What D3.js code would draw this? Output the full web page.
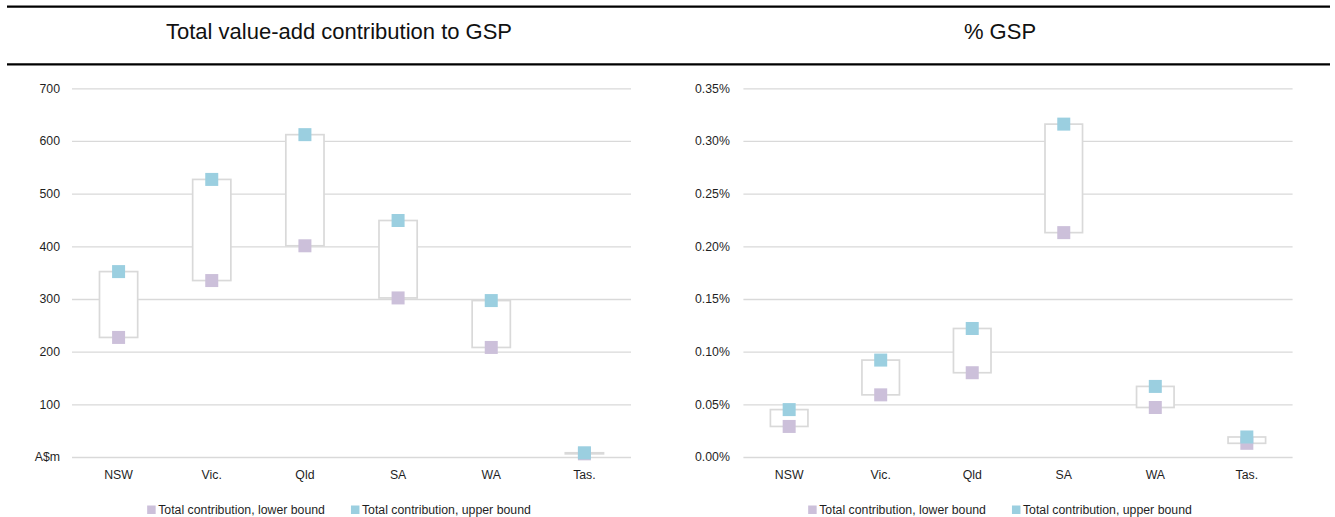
<!DOCTYPE html>
<html><head><meta charset="utf-8">
<script src="https://cdn.jsdelivr.net/npm/d3@7"></script>
<style>
html,body{margin:0;padding:0;background:#fff;}
svg{display:block;font-family:"Liberation Sans",Arial,sans-serif;}
</style></head><body>
<svg id="c" width="1335" height="517"></svg>
<script>
const categories = ["NSW","Vic.","Qld","SA","WA","Tas."];
const valueLower = [227, 335, 401, 302, 208, 6];
const valueUpper = [352, 527, 612, 449, 297, 8];
const pctLower = [0.029, 0.059, 0.080, 0.213, 0.047, 0.013];
const pctUpper = [0.045, 0.092, 0.122, 0.316, 0.067, 0.019];
const valueTicks = [0,100,200,300,400,500,600,700];
const valueTickLabels = ["A$m","100","200","300","400","500","600","700"];
const pctTicks = [0,0.05,0.10,0.15,0.20,0.25,0.30,0.35];
const pctTickLabels = ["0.00%","0.05%","0.10%","0.15%","0.20%","0.25%","0.30%","0.35%"];
const legendLabels = ["Total contribution, lower bound","Total contribution, upper bound"];
const titles = ["Total value-add contribution to GSP","% GSP"];

const lowerColor = "#CCC0DA", upperColor = "#9BCFE0", gridColor = "#d9d9d9", textColor = "#1f1f1f";
const svg = d3.select("#c");

// header rules
svg.selectAll("line.rule").data([6.7, 64.3]).enter().append("line")
  .attr("x1", 7).attr("x2", 1330).attr("y1", d => d).attr("y2", d => d)
  .attr("stroke", "#000").attr("stroke-width", 2.2);

const panels = [
  {title: titles[0], center: 339, lower: valueLower, upper: valueUpper, ticks: valueTicks, labels: valueTickLabels,
   domain: [0, 700], x0: 72, x1: 631, pad: 12},
  {title: titles[1], center: 1000, lower: pctLower, upper: pctUpper, ticks: pctTicks, labels: pctTickLabels,
   domain: [0, 0.35], x0: 743.4, x1: 1292.6, pad: 13.5}
];

const yBottom = 457, yTop = 88.3;

panels.forEach(p => {
  const g = svg.append("g");
  g.append("text").attr("x", p.center).attr("y", 39.3).attr("text-anchor", "middle")
    .attr("font-size", 22).attr("fill", "#111").text(p.title);

  const y = d3.scaleLinear().domain(p.domain).range([yBottom, yTop]);
  const x = d3.scaleBand().domain(categories).range([p.x0, p.x1]);

  const yAxis = d3.axisLeft(y).tickValues(p.ticks)
    .tickFormat((d, i) => p.labels[i])
    .tickSize(-(p.x1 - p.x0)).tickPadding(p.pad);
  const ya = g.append("g").attr("transform", `translate(${p.x0},0)`).call(yAxis);
  ya.select(".domain").remove();
  ya.selectAll(".tick line").attr("stroke", gridColor).attr("stroke-width", 1.3);
  ya.selectAll(".tick text").attr("font-size", 12.3).attr("fill", textColor)
    .attr("font-family", '"Liberation Sans",Arial,sans-serif');

  const xAxis = d3.axisBottom(x).tickSize(0).tickPadding(12.8);
  const xa = g.append("g").attr("transform", `translate(0,${yBottom})`).call(xAxis);
  xa.select(".domain").remove();
  xa.selectAll(".tick text").attr("font-size", 12.3).attr("fill", textColor)
    .attr("font-family", '"Liberation Sans",Arial,sans-serif');

  const data = categories.map((c, i) => ({c, lo: p.lower[i], hi: p.upper[i]}));
  const bw = x.bandwidth() * 0.41;

  g.selectAll("rect.box").data(data).enter().append("rect")
    .attr("x", d => x(d.c) + x.bandwidth() / 2 - bw / 2)
    .attr("width", bw)
    .attr("y", d => y(d.hi))
    .attr("height", d => Math.max(0.5, y(d.lo) - y(d.hi)))
    .attr("fill", "#fff").attr("stroke", gridColor).attr("stroke-width", 1.7);

  const ms = 13;
  g.selectAll("rect.lo").data(data).enter().append("rect")
    .attr("x", d => x(d.c) + x.bandwidth() / 2 - ms / 2)
    .attr("y", d => y(d.lo) - ms / 2)
    .attr("width", ms).attr("height", ms).attr("fill", lowerColor);
  g.selectAll("rect.hi").data(data).enter().append("rect")
    .attr("x", d => x(d.c) + x.bandwidth() / 2 - ms / 2)
    .attr("y", d => y(d.hi) - ms / 2)
    .attr("width", ms).attr("height", ms).attr("fill", upperColor);

  // legend
  const lg = g.append("g");
  const colors = [lowerColor, upperColor];
  let cx = 0;
  const items = legendLabels.map((t, i) => {
    const it = lg.append("g");
    it.append("rect").attr("x", 0).attr("y", 505.5).attr("width", 8.5).attr("height", 8.5).attr("fill", colors[i]);
    const tx = it.append("text").attr("x", 11).attr("y", 514).attr("font-size", 12.3).attr("fill", textColor).text(t);
    const w = 11 + tx.node().getComputedTextLength();
    it.attr("transform", `translate(${cx},0)`);
    cx += w + 26;
    return w;
  });
  const total = cx - 26;
  lg.attr("transform", `translate(${p.center - total / 2},0)`);
});
</script>
</body></html>
